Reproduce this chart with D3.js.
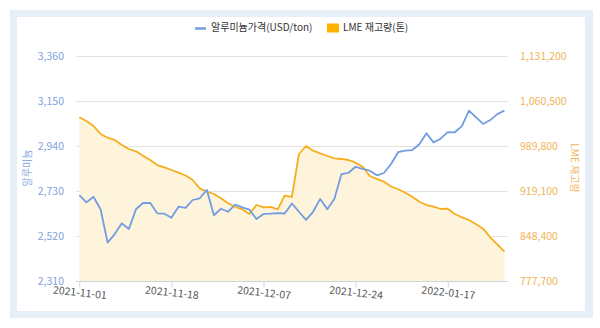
<!DOCTYPE html>
<html><head><meta charset="utf-8">
<script src="https://cdn.jsdelivr.net/npm/d3@7/dist/d3.min.js"></script>
<style>
html,body{margin:0;padding:0;background:#fff;}
svg{display:block;font-family:"Noto Sans CJK KR","Noto Sans",sans-serif;}
</style></head>
<body><svg id="c" width="600" height="328"></svg>
<script>
const dates = ["2021-11-01","2021-11-02","2021-11-03","2021-11-04","2021-11-05","2021-11-08","2021-11-09","2021-11-10","2021-11-11","2021-11-12","2021-11-15","2021-11-16","2021-11-17","2021-11-18","2021-11-19","2021-11-22","2021-11-23","2021-11-24","2021-11-25","2021-11-26","2021-11-29","2021-11-30","2021-12-01","2021-12-02","2021-12-03","2021-12-06","2021-12-07","2021-12-08","2021-12-09","2021-12-10","2021-12-13","2021-12-14","2021-12-15","2021-12-16","2021-12-17","2021-12-20","2021-12-21","2021-12-22","2021-12-23","2021-12-24","2021-12-29","2021-12-30","2021-12-31","2022-01-04","2022-01-05","2022-01-06","2022-01-07","2022-01-10","2022-01-11","2022-01-12","2022-01-13","2022-01-14","2022-01-17","2022-01-18","2022-01-19","2022-01-20","2022-01-21","2022-01-24","2022-01-25","2022-01-26","2022-01-27"];
const aluminumPrice = [2711,2677,2703,2645,2489,2529,2579,2553,2645,2674,2675,2626,2624,2605,2657,2651,2688,2696,2735,2617,2647,2633,2666,2654,2643,2599,2623,2624,2627,2625,2672,2633,2595,2633,2693,2645,2693,2809,2815,2843,2833,2825,2803,2814,2856,2911,2918,2921,2948,2999,2957,2974,3005,3004,3033,3105,3074,3043,3061,3089,3105];
const lmeStock = [1034900,1029100,1021200,1008700,1002800,999200,991400,985100,981500,974600,967800,959900,956300,952100,947900,943500,936400,923300,918000,914400,907600,899800,894400,890300,883000,897100,893500,894000,890300,912000,909700,977200,989800,982400,978300,974100,970500,969400,967800,963600,957300,942700,937900,933700,926200,921800,916400,910100,902300,897100,894400,890800,891300,883000,877800,873500,866800,859900,846400,835400,823700];
const xTickLabels = ["2021-11-01","2021-11-18","2021-12-07","2021-12-24","2022-01-17"];
const leftTicks = [2310,2520,2730,2940,3150,3360];
const rightTicks = [777700,848400,919100,989800,1060500,1131200];
const seriesNames = ["알루미늄가격(USD/ton)","LME 재고량(톤)"];
const axisTitles = ["알루미늄","LME 재고량"];

const svg = d3.select("#c");
const blue = "#729de2", orange = "#f5ae1e", fillC = "#fef4dc";

// frame
svg.append("rect").attr("x",10).attr("y",10).attr("width",583).attr("height",308).attr("fill","#e7eef8");
svg.append("rect").attr("x",17).attr("y",17).attr("width",568).attr("height",294).attr("fill","#fff");

const x = d3.scalePoint().domain(dates).range([79.3,504.4]);
const yL = d3.scaleLinear().domain([2310,3360]).range([281,56]);
const yR = d3.scaleLinear().domain([777700,1131200]).range([281,56]);

// gridlines
svg.append("g").selectAll("line").data(leftTicks.slice(1)).join("line")
  .attr("x1",76).attr("x2",508).attr("y1",d=>yL(d)+0.5).attr("y2",d=>yL(d)+0.5)
  .attr("stroke","#e2e2e2").attr("stroke-width",1);

// area
svg.append("path").datum(lmeStock)
  .attr("d", d3.area().x((d,i)=>x(dates[i])).y0(yR(777700)).y1(d=>yR(d)))
  .attr("fill",fillC);

// x axis
const xa = svg.append("g").attr("transform","translate(0,281.5)")
  .call(d3.axisBottom(x).tickValues(xTickLabels).tickSize(6).tickSizeOuter(0));
xa.select(".domain").attr("stroke","#ccd3dd").attr("d","M76,0H508");
xa.selectAll(".tick line").attr("stroke","#ccd3dd");
xa.selectAll(".tick text").attr("fill","#555").attr("font-size","10.5px")
  .attr("font-family","'Noto Sans CJK KR',sans-serif")
  .attr("y",0).attr("dy",0)
  .attr("transform","translate(0,12) rotate(6)")
  .attr("text-anchor","middle").attr("dominant-baseline","middle");

// left axis
const la = svg.append("g").attr("transform","translate(76,0)")
  .call(d3.axisLeft(yL).tickValues(leftTicks).tickSize(0).tickPadding(12).tickFormat(d3.format(",")));
la.select(".domain").remove();
la.selectAll("text").attr("fill","#7ea3dc").attr("font-size","10.5px").attr("font-family","'Noto Sans CJK KR',sans-serif");

// right axis
const ra = svg.append("g").attr("transform","translate(508,0)")
  .call(d3.axisRight(yR).tickValues(rightTicks).tickSize(0).tickPadding(12).tickFormat(d3.format(",")));
ra.select(".domain").remove();
ra.selectAll("text").attr("fill","#f2b457").attr("font-size","10.5px").attr("font-family","'Noto Sans CJK KR',sans-serif");

// lines
svg.append("path").datum(lmeStock)
  .attr("d", d3.line().x((d,i)=>x(dates[i])).y(d=>yR(d)))
  .attr("fill","none").attr("stroke",orange).attr("stroke-width",1.8).attr("stroke-linejoin","round");
svg.append("path").datum(aluminumPrice)
  .attr("d", d3.line().x((d,i)=>x(dates[i])).y(d=>yL(d)))
  .attr("fill","none").attr("stroke",blue).attr("stroke-width",1.8).attr("stroke-linejoin","round");

// axis titles
svg.append("text").attr("transform","translate(31,168) rotate(-90)")
  .attr("text-anchor","middle").attr("fill","#8aaee0").attr("font-size","10px").text(axisTitles[0]);
svg.append("text").attr("transform","translate(571,168) rotate(90)")
  .attr("text-anchor","middle").attr("fill","#f2b457").attr("font-size","10px").text(axisTitles[1]);

// legend
const lg = svg.append("g");
lg.append("line").attr("x1",195).attr("x2",206).attr("y1",28.5).attr("y2",28.5).attr("stroke",blue).attr("stroke-width",2.5);
lg.append("text").attr("x",211).attr("y",28).attr("dominant-baseline","middle").attr("font-size","10px").attr("fill","#333").text(seriesNames[0]);
lg.append("rect").attr("x",327).attr("y",23.5).attr("width",12).attr("height",9).attr("fill","#ffb100");
lg.append("text").attr("x",343).attr("y",28).attr("dominant-baseline","middle").attr("font-size","10px").attr("fill","#333").text(seriesNames[1]);
</script></body></html>
